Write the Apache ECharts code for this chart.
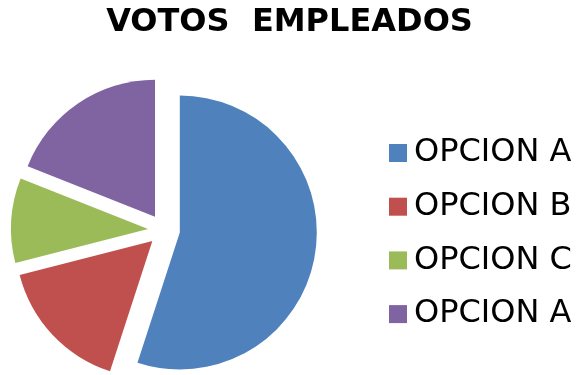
<!DOCTYPE html>
<html>
<head>
<meta charset="utf-8">
<style>
  html, body { margin: 0; padding: 0; background: #ffffff; }
  #chart { width: 579px; height: 375px; }
</style>
<script src="https://cdn.jsdelivr.net/npm/echarts@6/dist/echarts.min.js"></script>
</head>
<body>
<div id="chart"></div>
<script>
// Vote counts per option (the last option repeats the first label)
const categories = ['OPCION A', 'OPCION B', 'OPCION C', 'OPCION A '];
const votes = [55, 16, 10, 19];
const colors = ['#4F81BD', '#C0504D', '#9BBB59', '#8064A2'];

const chart = echarts.init(document.getElementById('chart'), null, { renderer: 'canvas' });

chart.setOption({
  animation: false,
  backgroundColor: '#ffffff',
  title: {
    text: 'VOTOS  EMPLEADOS',
    left: 'center',
    top: 2,
    textStyle: {
      fontFamily: 'DejaVu Sans',
      fontWeight: 'bold',
      fontSize: 32,
      color: '#000000'
    }
  },
  legend: {
    orient: 'vertical',
    left: 384,
    top: 132,
    itemWidth: 18,
    itemHeight: 18,
    itemGap: 21.7,
    icon: 'rect',
    selectedMode: false,
    data: categories,
    textStyle: {
      fontFamily: 'DejaVu Sans',
      fontSize: 32,
      lineHeight: 32,
      color: '#000000',
      padding: [0, 0, 0, 2]
    }
  },
  series: [{
    type: 'pie',
    center: [164, 230],
    radius: 137,
    startAngle: 90,
    clockwise: true,
    selectedMode: 'multiple',
    selectedOffset: 16,
    silent: true,
    label: { show: false },
    labelLine: { show: false },
    emphasis: { disabled: true },
    itemStyle: { borderWidth: 0 },
    data: categories.map((name, i) => ({
      name: name,
      value: votes[i],
      selected: true,
      itemStyle: { color: colors[i] }
    }))
  }]
});
</script>
</body>
</html>
